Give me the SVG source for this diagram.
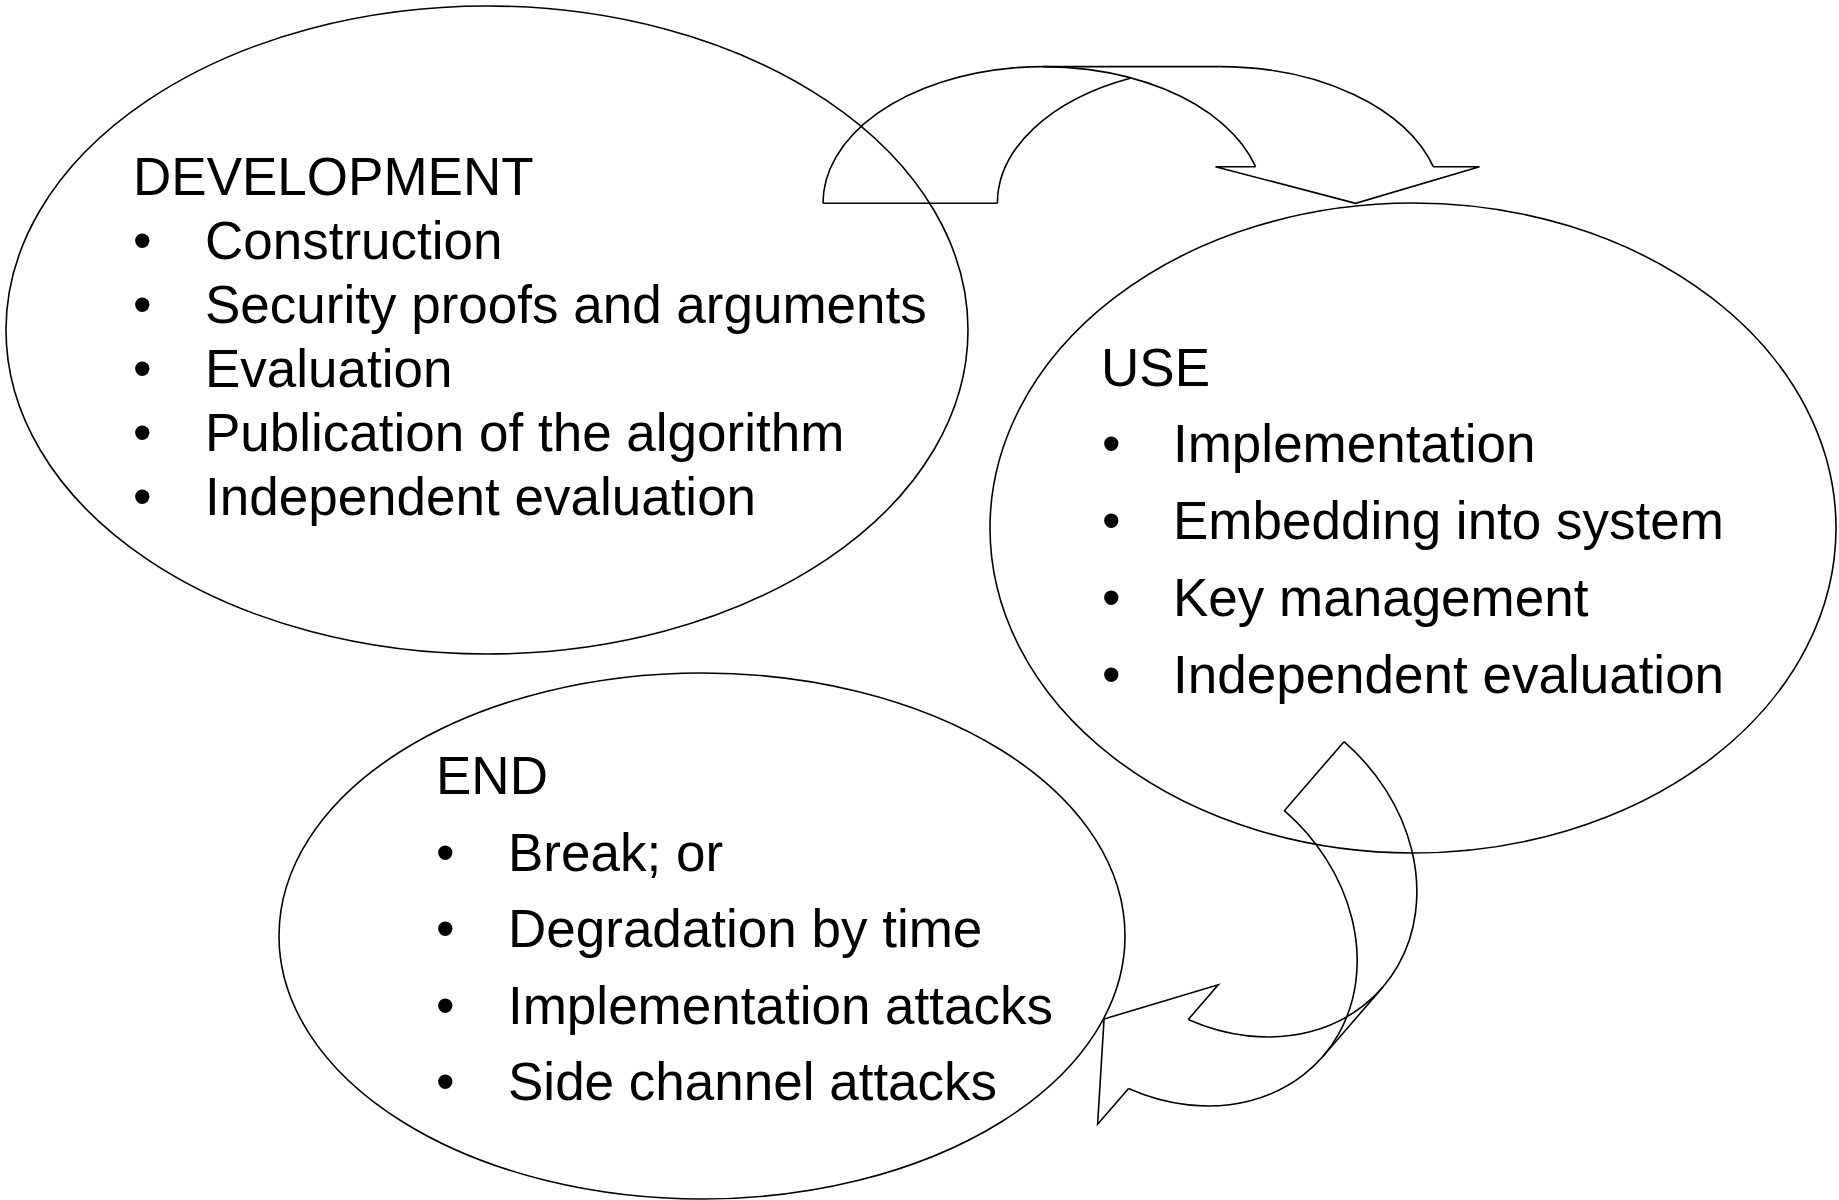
<svg xmlns="http://www.w3.org/2000/svg" width="1839" height="1200" viewBox="0 0 1839 1200">
<style>
.shape{fill:none;stroke:#000;stroke-width:1.6;stroke-linejoin:miter}
.t{font-family:"Liberation Sans",Arial,sans-serif;font-size:53px;fill:#000}
</style>
<rect width="1839" height="1200" fill="#fff"/>
<g id="development">
<ellipse class="shape" cx="487" cy="330" rx="481" ry="324"/>
<text class="t" x="133" y="195">DEVELOPMENT</text>
<text class="t" x="133" y="259">•</text><text class="t" x="205" y="259">Construction</text>
<text class="t" x="133" y="323">•</text><text class="t" x="205" y="323">Security proofs and arguments</text>
<text class="t" x="133" y="387">•</text><text class="t" x="205" y="387">Evaluation</text>
<text class="t" x="133" y="451">•</text><text class="t" x="205" y="451">Publication of the algorithm</text>
<text class="t" x="133" y="515">•</text><text class="t" x="205" y="515">Independent evaluation</text>
</g>
<g id="use">
<ellipse class="shape" cx="1413" cy="528" rx="423" ry="325"/>
<text class="t" x="1101" y="386">USE</text>
<text class="t" x="1102" y="462">•</text><text class="t" x="1173" y="462">Implementation</text>
<text class="t" x="1102" y="539">•</text><text class="t" x="1173" y="539">Embedding into system</text>
<text class="t" x="1102" y="616">•</text><text class="t" x="1173" y="616">Key management</text>
<text class="t" x="1102" y="693">•</text><text class="t" x="1173" y="693">Independent evaluation</text>
</g>
<g id="end">
<ellipse class="shape" cx="702" cy="936" rx="423" ry="263"/>
<text class="t" x="436" y="794">END</text>
<text class="t" x="436" y="871">•</text><text class="t" x="508" y="871">Break; or</text>
<text class="t" x="436" y="947">•</text><text class="t" x="508" y="947">Degradation by time</text>
<text class="t" x="436" y="1024">•</text><text class="t" x="508" y="1024">Implementation attacks</text>
<text class="t" x="436" y="1100">•</text><text class="t" x="508" y="1100">Side channel attacks</text>
</g>
<g id="connectors">
<g id="arrow-dev-use" transform="translate(823,203.3)">
<path class="shape" d="M0,0 A220.3,136.7 0 0 1 432.56,-36.6"/>
<path class="shape" d="M174.4,0 A222,136.7 0 0 1 308,-125.4"/>
<path class="shape" d="M396.4,-136.7 A222,136.7 0 0 1 610.3,-36.6"/>
<path class="shape" d="M220.3,-136.7 L396.4,-136.7"/>
<path class="shape" d="M0,0 L174.4,0"/>
<path class="shape" d="M432.56,-36.6 L392.5,-36.6 L532.6,0 L656.5,-36.6 L610.3,-36.6"/>
</g>
<g id="arrow-use-end" transform="translate(1344,741.7) rotate(130.87)">
<path class="shape" d="M0,0 A160.7,190 0 0 1 312,-64"/>
<path class="shape" d="M91.2,0 A160.7,190 0 0 1 403.2,-64"/>
<path class="shape" d="M160.7,-190 L251.9,-190"/>
<path class="shape" d="M0,0 L91.2,0"/>
<path class="shape" d="M312,-64 L266.1,-64 L366.7,0 L450.5,-64 L403.2,-64"/>
</g>
</g>
</svg>
